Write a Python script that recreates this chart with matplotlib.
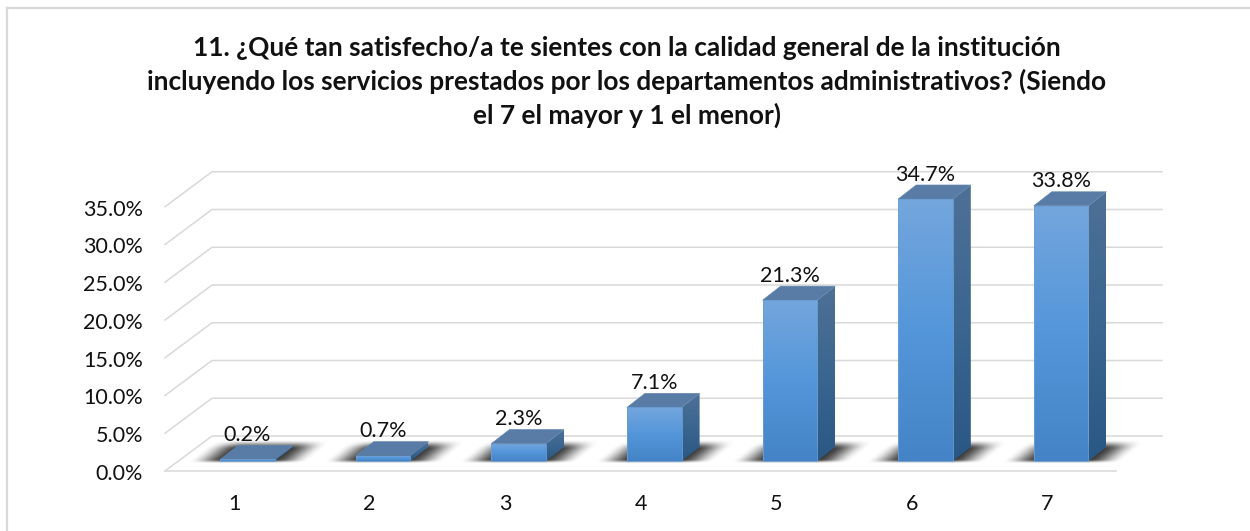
import numpy as np
import matplotlib
matplotlib.use("Agg")
import matplotlib.pyplot as plt
from matplotlib.colors import LinearSegmentedColormap
from matplotlib.patches import Polygon

plt.rcParams["font.family"] = ["Lato", "DejaVu Sans"]

categories = ["1", "2", "3", "4", "5", "6", "7"]
values = [0.2, 0.7, 2.3, 7.1, 21.3, 34.7, 33.8]
labels = ["0.2%", "0.7%", "2.3%", "7.1%", "21.3%", "34.7%", "33.8%"]
ticks = [0, 5, 10, 15, 20, 25, 30, 35]
title = ("11. ¿Qué tan satisfecho/a te sientes con la calidad general de la institución\n"
         "incluyendo los servicios prestados por los departamentos administrativos? (Siendo\n"
         "el 7 el mayor y 1 el menor)")

W, H = 1250, 531
# scale: pixels per category and per percent point
px_x = 135.6
px_y = 7.55
x0_px = 247.5
y0_px = 461.0

fig = plt.figure(figsize=(W / 100, H / 100), dpi=100)
ax = fig.add_axes([0, 0, 1, 1])
xlim = (1 - x0_px / px_x, 1 + (W - x0_px) / px_x)
ylim = ((y0_px - H) / px_y, y0_px / px_y)


def dx(p):
    return p / px_x


def dy(p):
    return p / px_y


def smooth(t):
    t = np.clip(t, 0, 1)
    return t * t * (3 - 2 * t)


# wall depth and bar depth, in data units
wall_x, wall_y = dx(47), dy(35)
bar_dx, bar_dy = dx(18), dy(14)
half = dx(27.3)
floor = -dy(10)
left = 1 - dx(82.5)
right_front = 1 + dx(868.5)
right_back = 1 + dx(914.5)
grid_c = "#D9D9D9"

# frame of the chart (left and top only)
ax.plot([1 - dx(240.5), 1 - dx(240.5)], [ylim[0], floor + dy(463)], color=grid_c, lw=1.6, zorder=1)
ax.plot([1 - dx(240.5), xlim[1]], [floor + dy(463), floor + dy(463)], color=grid_c, lw=1.6, zorder=1)

# walls
for t in ticks:
    y = floor + t
    ax.plot([left, left + wall_x, right_back], [y, y + wall_y, y + wall_y], color=grid_c, lw=1.1, zorder=2)
    ax.text(1 - dx(104.5), y - dy(3), f"{t:.1f}%", ha="right", va="center", fontsize=15.5,
            color="#111111", zorder=8)
ax.plot([left, right_front], [floor, floor], color=grid_c, lw=1.1, zorder=2)

front_cm = LinearSegmentedColormap.from_list("front", ["#4484C6", "#5496DA", "#73A6DD"])
side_cm = LinearSegmentedColormap.from_list("side", ["#2A5884", "#3A6690", "#4E7096"])
shade = np.linspace(0, 1, 64).reshape(-1, 1)

for i, v in enumerate(values):
    x = i + 1
    l, r = x - half, x + half

    # soft shadow on the floor
    xx, yy = np.meshgrid(np.arange(-40, 125), np.arange(-4, 24))
    u = xx - yy * 18 / 14
    a = smooth((u + 32) / 36) * smooth((88 - u) / 36)
    a = a * smooth((yy + 3) / 4) * smooth((20 - yy) / 9)
    rgba = np.zeros(a.shape + (4,))
    rgba[..., :3] = 0.22
    rgba[..., 3] = a
    ax.imshow(rgba, extent=(l - dx(40), l + dx(125), -dy(4), dy(24)), origin="lower",
              aspect="auto", interpolation="bilinear", zorder=3)

    # front face
    im = ax.imshow(shade, extent=(l, r, 0, v), origin="lower", aspect="auto", cmap=front_cm,
                   vmin=0, vmax=1, interpolation="bilinear", zorder=5)
    im.set_clip_path(Polygon([(l, 0), (r, 0), (r, v), (l, v)], transform=ax.transData))
    ax.plot([l, l, r, r, l], [0, v, v, 0, 0], color="#6C9FD6", lw=0.6, zorder=6)

    # side face
    im = ax.imshow(shade, extent=(r, r + bar_dx, 0, v + bar_dy), origin="lower", aspect="auto",
                   cmap=side_cm, vmin=0, vmax=1, interpolation="bilinear", zorder=4)
    im.set_clip_path(Polygon([(r, 0), (r + bar_dx, bar_dy), (r + bar_dx, v + bar_dy), (r, v)],
                             transform=ax.transData))

    # top face
    ax.add_patch(Polygon([(l, v), (r, v), (r + bar_dx, v + bar_dy), (l + bar_dx, v + bar_dy)],
                         facecolor="#587CA6", edgecolor="#6386AE", lw=0.5, zorder=5))

    ax.text(x, v + bar_dy + dy(10.5), labels[i], ha="center", va="center", fontsize=15.5,
            color="#111111", zorder=8)
    ax.text(x - dx(13.5), -dy(43), categories[i], ha="center", va="center", fontsize=15.5,
            color="#111111", zorder=8)

ax.text(1 + dx(379.5), floor + dy(389), title, ha="center", va="center", fontsize=18.9,
        fontweight="bold", color="#111111", linespacing=1.39, zorder=8)

ax.set_xlim(xlim)
ax.set_ylim(ylim)
ax.axis("off")
fig.savefig("out.png", dpi=100, facecolor="white")
